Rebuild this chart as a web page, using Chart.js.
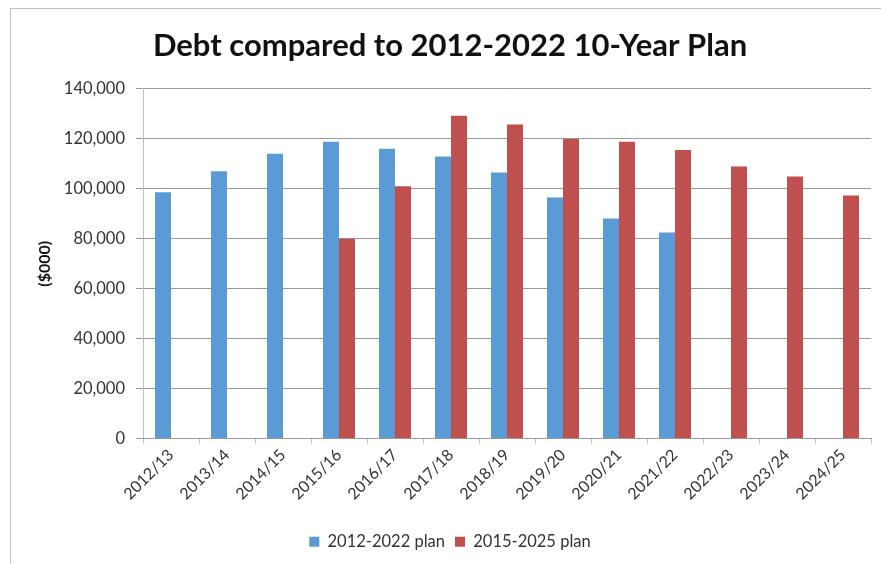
<!DOCTYPE html>
<html>
<head>
<meta charset="utf-8">
<script src="https://cdn.jsdelivr.net/npm/chart.js@4.4.1/dist/chart.umd.min.js"></script>
<style>
    body { margin: 0; background: #fff; overflow: hidden; }
    #frame { position: absolute; left: 10px; top: 8px; width: 900px; height: 600px; border: 1px solid #c4c4c4; }
    #debtChart { position: absolute; left: 0; top: 0; }
</style>
</head>
<body>
<div id="frame"></div>
<canvas id="debtChart" width="881" height="564"></canvas>
<script>
// Dane wykresu
const years = ['2012/13', '2013/14', '2014/15', '2015/16', '2016/17', '2017/18', '2018/19',
    '2019/20', '2020/21', '2021/22', '2022/23', '2023/24', '2024/25'];
const plan2012 = [98600, 107000, 114000, 118900, 116100, 112900, 106500, 96500, 88100, 82500, null, null, null];
const plan2015 = [null, null, null, 80000, 101000, 129300, 125800, 120000, 118900, 115600, 108900, 104900, 97300];
const yTicks = [0, 20000, 40000, 60000, 80000, 100000, 120000, 140000];

const font = 'Lato, "Open Sans", sans-serif';

const ctx = document.getElementById('debtChart').getContext('2d');

const chart = new Chart(ctx, {
    type: 'bar',
    data: {
        labels: years,
        datasets: [{
            label: '2012-2022 plan',
            data: plan2012,
            backgroundColor: '#5b9bd5',
            categoryPercentage: 0.572,
            barPercentage: 1
        }, {
            label: '2015-2025 plan',
            data: plan2015,
            backgroundColor: '#c0504d',
            categoryPercentage: 0.572,
            barPercentage: 1
        }]
    },
    options: {
        responsive: false,
        animation: false,
        layout: {
            padding: { top: 28, left: 29, right: 10, bottom: 4 }
        },
        scales: {
            y: {
                min: 0,
                max: 140000,
                afterBuildTicks: (scale) => { scale.ticks = yTicks.map(v => ({ value: v })); },
                afterFit: (scale) => { scale.width = 114; },
                ticks: {
                    color: '#333',
                    padding: 11,
                    font: { family: font, size: 16.5 },
                    callback: (v) => v.toLocaleString('en-US')
                },
                grid: { color: '#999', tickLength: 7 },
                border: { color: '#c0c0c0' },
                title: {
                    display: true,
                    text: '($000)',
                    color: '#111',
                    padding: { top: 6, bottom: 0 },
                    font: { family: font, size: 16, weight: 'bold' }
                }
            },
            x: {
                afterFit: (scale) => { scale.height = 85; },
                ticks: {
                    color: '#333',
                    minRotation: 45,
                    maxRotation: 45,
                    padding: 2,
                    font: { family: font, size: 16 }
                },
                grid: { drawOnChartArea: false, color: '#c0c0c0', tickLength: 5 },
                border: { color: '#999' }
            }
        },
        plugins: {
            title: {
                display: true,
                text: 'Debt compared to 2012-2022 10-Year Plan',
                color: '#111',
                padding: { top: 0, bottom: 25 },
                font: { family: font, size: 31, weight: 'bold', lineHeight: 1.16 }
            },
            legend: {
                display: true,
                position: 'bottom',
                labels: {
                    color: '#333',
                    boxWidth: 10,
                    boxHeight: 10,
                    padding: 10,
                    font: { family: font, size: 16.5 }
                }
            },
            tooltip: { enabled: false }
        }
    }
});
</script>
</body>
</html>
